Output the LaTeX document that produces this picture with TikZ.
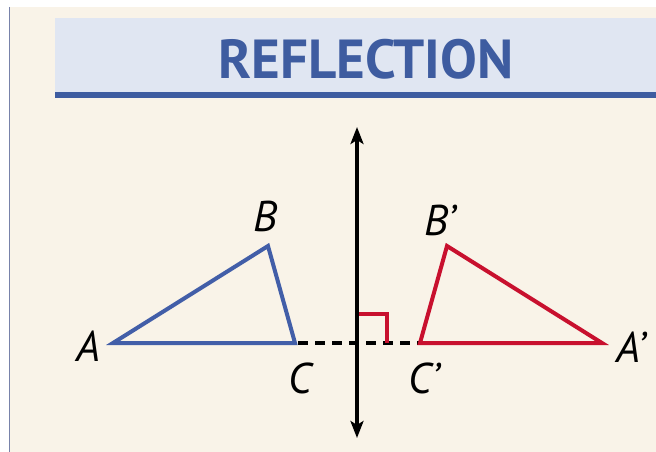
\documentclass[tikz,border=0pt]{standalone}
\usepackage{fontspec}
\setmainfont{PT Sans}
\usetikzlibrary{arrows.meta}
\definecolor{cream}{RGB}{249,243,232}
\definecolor{bandbg}{RGB}{224,230,242}
\definecolor{titleblue}{RGB}{62,92,160}
\definecolor{triblue}{RGB}{66,94,168}
\definecolor{trired}{RGB}{200,16,46}
\definecolor{borderc}{RGB}{120,130,170}
\tikzset{
  lbl/.style={font=\fontsize{43}{46}\selectfont\itshape, inner sep=0pt},
  triA/.style={draw=triblue, line width=4pt, line join=miter},
  triB/.style={draw=trired, line width=4pt, line join=miter},
}
\begin{document}
\begin{tikzpicture}[x=1pt,y=-1pt]
\useasboundingbox (0,0) rectangle (656,452);
\fill[white] (0,0) rectangle (656,452);
\fill[cream] (9,7) rectangle (656,452);
\draw[borderc, line width=1.5pt] (9.5,7) -- (9.5,452);
\fill[bandbg] (55,18) rectangle (656,92);
\fill[titleblue] (55,92) rectangle (656,98);
\node[font=\fontsize{55}{58}\selectfont\bfseries, text=titleblue, inner sep=0pt] (title) at (366,59) {REFLECTION};
% vertices
\coordinate (A) at (113,343);
\coordinate (B) at (268,246);
\coordinate (C) at (295,343);
\coordinate (A2) at (602,343);
\coordinate (B2) at (447,246);
\coordinate (C2) at (420,343);
\coordinate (top) at (357,127);
\coordinate (bot) at (357,438);
\coordinate (R1) at (357,314);
\coordinate (R2) at (387,314);
\coordinate (R3) at (387,343);
% dashed segment
\draw[black, line width=4pt, dash pattern=on 10pt off 7pt, dash phase=-3pt] (C) -- (C2);
% right-angle mark
\draw[trired, line width=3.5pt] (R1) -- (R2) -- (R3);
% axis
\draw[line width=4pt, {Stealth[length=17pt,width=13pt,inset=4pt]}-{Stealth[length=17pt,width=13pt,inset=4pt]}] (top) -- (bot);
% triangles
\draw[triA] (A) -- (B) -- (C) -- cycle;
\draw[triB] (A2) -- (B2) -- (C2) -- cycle;
% labels
\node[lbl] (lA) at (88,346) {A};
\node[lbl] (lB) at (265,216) {B};
\node[lbl] (lC) at (300,378) {C};
\node[lbl] (lA2) at (631,347) {A’};
\node[lbl] (lB2) at (440,220) {B’};
\node[lbl] (lC2) at (424,378) {C’};
\end{tikzpicture}
\end{document}
